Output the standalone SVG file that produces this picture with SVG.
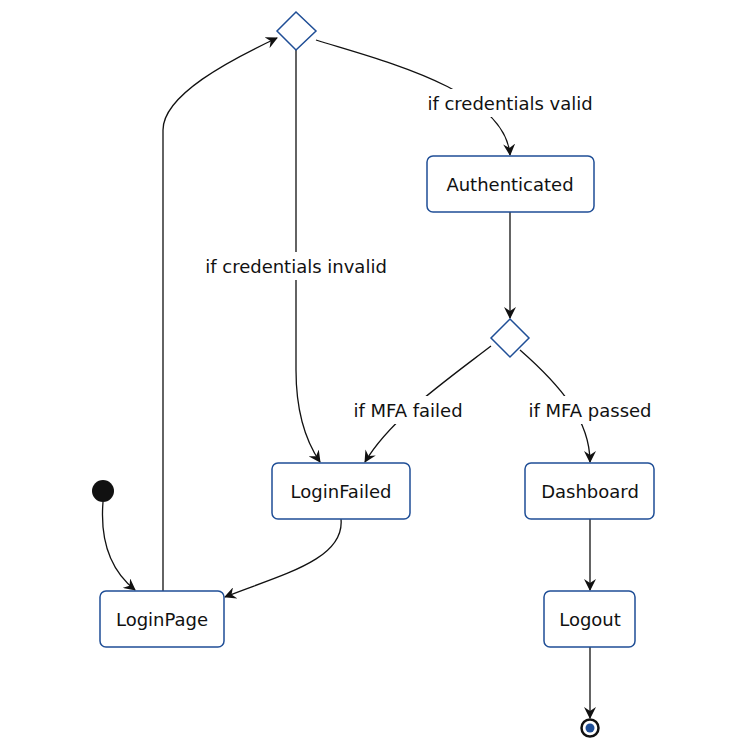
<svg xmlns="http://www.w3.org/2000/svg" width="750" height="750" viewBox="0 0 750 750">
<style>
.n{fill:#fff;stroke:#1f4e96;stroke-width:1.5}
.t{font-family:"DejaVu Sans",sans-serif;font-size:18px;fill:#111;text-anchor:middle;dominant-baseline:central}
.e{fill:none;stroke:#111;stroke-width:1.3;marker-end:url(#a)}
.lb{fill:#fff}
</style>
<defs><marker id="a" viewBox="0 0 12 12" refX="11" refY="6" markerWidth="12" markerHeight="12" markerUnits="userSpaceOnUse" orient="auto"><path d="M0,0 L12,6 L0,12 L4,6 Z" fill="#111"/></marker></defs>
<rect width="750" height="750" fill="#fff"/>
<g id="connectors">
<path class="e" d="M103,502 C100,540 110,570 135,590"/>
<path class="e" d="M163,591 L163,130 C163,95 230,60 277,38"/>
<path class="e" d="M296,50 L296,370 C296,410 305,440 320,462"/>
<path class="e" d="M316,40 C380,60 505,90 510,155"/>
<path class="e" d="M510,212 L510,318"/>
<path class="e" d="M491,346 C440,385 390,420 365,462"/>
<path class="e" d="M520,350 C560,385 590,420 590,462"/>
<path class="e" d="M341,519 C345,560 280,575 225,597"/>
<path class="e" d="M590,519 L590,590"/>
<path class="e" d="M590,647 L590,718"/>
<rect class="lb" x="188" y="252" width="216" height="28"/>
<text class="t" x="296" y="266">if credentials invalid</text>
<rect class="lb" x="412" y="89" width="196" height="28"/>
<text class="t" x="510" y="103">if credentials valid</text>
<rect class="lb" x="343" y="396" width="130" height="28"/>
<text class="t" x="408" y="410">if MFA failed</text>
<rect class="lb" x="520" y="396" width="140" height="28"/>
<text class="t" x="590" y="410">if MFA passed</text>
</g>
<g id="start"><circle cx="103" cy="491" r="11" fill="#111"/></g>
<g id="choice1"><path class="n" d="M296,12 L316,31 L296,50 L277,31 Z"/></g>
<g id="choice2"><path class="n" d="M510,319 L529,338 L510,357 L491,338 Z"/></g>
<g id="LoginPage"><rect class="n" x="100" y="591" width="124" height="56" rx="6"/><text class="t" x="162" y="619">LoginPage</text></g>
<g id="LoginFailed"><rect class="n" x="272" y="463" width="138" height="56" rx="6"/><text class="t" x="341" y="491">LoginFailed</text></g>
<g id="Authenticated"><rect class="n" x="427" y="156" width="167" height="56" rx="6"/><text class="t" x="510" y="184">Authenticated</text></g>
<g id="Dashboard"><rect class="n" x="525" y="463" width="129" height="56" rx="6"/><text class="t" x="590" y="491">Dashboard</text></g>
<g id="Logout"><rect class="n" x="544" y="591" width="91" height="56" rx="6"/><text class="t" x="590" y="619">Logout</text></g>
<g id="end"><circle cx="590" cy="728" r="8.5" fill="#fff" stroke="#111" stroke-width="2.5"/><circle cx="590" cy="728" r="4.5" fill="#1f4e96"/></g>
</svg>
